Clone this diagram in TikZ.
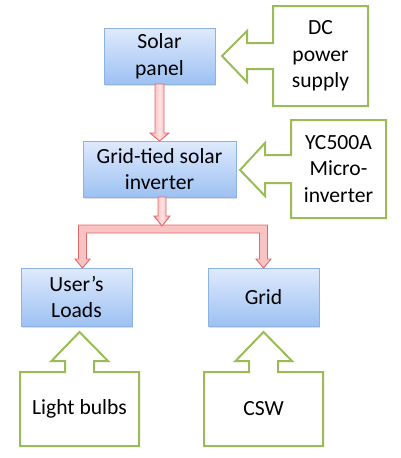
\documentclass[tikz,border=0pt]{standalone}
\usepackage{fontspec}
\setmainfont{Carlito}
\usetikzlibrary{calc,shadows}
\definecolor{boxtop}{HTML}{DFEAFC}
\definecolor{boxbot}{HTML}{9DC1F3}
\definecolor{boxline}{HTML}{8DB3E2}
\definecolor{grn}{HTML}{9BBB59}
\definecolor{redline}{HTML}{E06A6A}
\definecolor{rededge}{HTML}{F5A3A3}
\definecolor{redmid}{HTML}{FFE3E3}
\definecolor{redfill}{HTML}{F9C3C3}
\tikzset{
  bluebox/.style={draw=boxline, line width=0.8pt, top color=boxtop, bottom color=boxbot,
    inner sep=0pt, outer sep=0pt, align=center,
    drop shadow={shadow xshift=0.8pt, shadow yshift=-1.5pt, opacity=0.25}},
  greenbox/.style={inner sep=0pt, outer sep=0pt, align=center, minimum width=95pt},
  callout/.style={draw=grn, line width=2pt, fill=white, line join=miter},
  redarrow/.style={draw=redline, line width=0.9pt, left color=rededge, right color=rededge, middle color=redmid, line join=miter},
  redelbow/.style={draw=redline, line width=0.9pt, fill=redfill, line join=miter},
}
\newcommand\vblockarrow[5]{% start, tip, shaft half, head half, head length
  \draw[redarrow] let \p1=(#1), \p2=(#2) in
    (\x1-#3pt,\y1) -- (\x1+#3pt,\y1) -- (\x1+#3pt,\y2+#5pt) -- (\x1+#4pt,\y2+#5pt)
    -- (\x2,\y2) -- (\x1-#4pt,\y2+#5pt) -- (\x1-#3pt,\y2+#5pt) -- cycle;}
\begin{document}
\begin{tikzpicture}[x=1pt,y=-1pt,font=\fontsize{21.6}{26.5}\selectfont]
\useasboundingbox (0,0) rectangle (400,458);

% blue boxes
\node[bluebox, minimum width=111pt, minimum height=56pt] (sp) at (159.5,56) {Solar\\panel};
\node[bluebox, minimum width=153pt, minimum height=56pt] (inv) at (159.5,169) {Grid-tied solar\\inverter};
\node[bluebox, minimum width=111pt, minimum height=58pt] (ul) at (76.5,297) {User’s\\Loads};
\node[bluebox, minimum width=111pt, minimum height=58pt] (gr) at (263.5,297) {Grid};

% green callout boxes (outline drawn below)
\node[greenbox, minimum height=100pt] (dc) at (320.5,56) {};
\node[greenbox, minimum height=98pt] (yc) at (338.5,169) {};
\node[greenbox, minimum width=119pt, minimum height=74pt] (lb) at (79.5,409) {};
\node[greenbox, minimum width=119pt, minimum height=74pt] (csw) at (263.5,409) {};

\draw[callout] (dc.north west) -- (dc.north east) -- (dc.south east) -- (dc.south west)
  -- ($(dc.west)+(0,13)$) -- ++(-26,0) -- ++(0,13) -- ($(sp.east)+(7,0)$)
  -- ($(dc.west)+(-26,-25)$) -- ++(0,12) -- ($(dc.west)+(0,-13)$) -- cycle;
\draw[callout] (yc.north west) -- (yc.north east) -- (yc.south east) -- (yc.south west)
  -- ($(yc.west)+(0,14)$) -- ++(-26,0) -- ++(0,13) -- ($(inv.east)+(4,1)$)
  -- ($(yc.west)+(-26,-26)$) -- ++(0,12) -- ($(yc.west)+(0,-14)$) -- cycle;
\draw[callout] (lb.north west) -- ($(lb.north)+(-14.5,0)$) -- ++(0,-11) -- ++(-13.5,0)
  -- ($(ul.south)+(3,6)$) -- ($(lb.north)+(28.5,-11)$) -- ++(-14,0) -- ($(lb.north)+(14.5,0)$)
  -- (lb.north east) -- (lb.south east) -- (lb.south west) -- cycle;
\draw[callout] (csw.north west) -- ($(csw.north)+(-14.5,0)$) -- ++(0,-11) -- ++(-13.5,0)
  -- ($(gr.south)+(0,6)$) -- ($(csw.north)+(28.5,-11)$) -- ++(-14,0) -- ($(csw.north)+(14.5,0)$)
  -- (csw.north east) -- (csw.south east) -- (csw.south west) -- cycle;

\node[align=center] at (dc) {DC\\power\\supply};
\node[align=center] at (yc) {YC500A\\Micro-\\inverter};
\node at (lb) {Light bulbs};
\node at (csw) {CSW};

% red block arrows
\vblockarrow{sp.south}{inv.north}{4.5}{9.5}{8}

\coordinate (lt) at ($(ul.north)+(6,0)$);
\coordinate (rt) at (gr.north);
\draw[redelbow] ($(lt)+(-4,-43)$) -- ($(rt)+(4,-43)$) -- ($(rt)+(4,-9)$) -- ($(rt)+(7.5,-9)$)
  -- (rt) -- ($(rt)+(-7.5,-9)$) -- ($(rt)+(-4,-9)$) -- ($(rt)+(-4,-35)$)
  -- ($(lt)+(4,-35)$) -- ($(lt)+(4,-9)$) -- ($(lt)+(7.5,-9)$) -- (lt)
  -- ($(lt)+(-7.5,-9)$) -- ($(lt)+(-4,-9)$) -- cycle;

\coordinate (is) at ($(inv.south)+(2.5,0)$);
\coordinate (j) at ($(lt)!(is)!(rt)+(0,-42)$);
\vblockarrow{is}{j}{4}{8}{10}
\end{tikzpicture}
\end{document}
